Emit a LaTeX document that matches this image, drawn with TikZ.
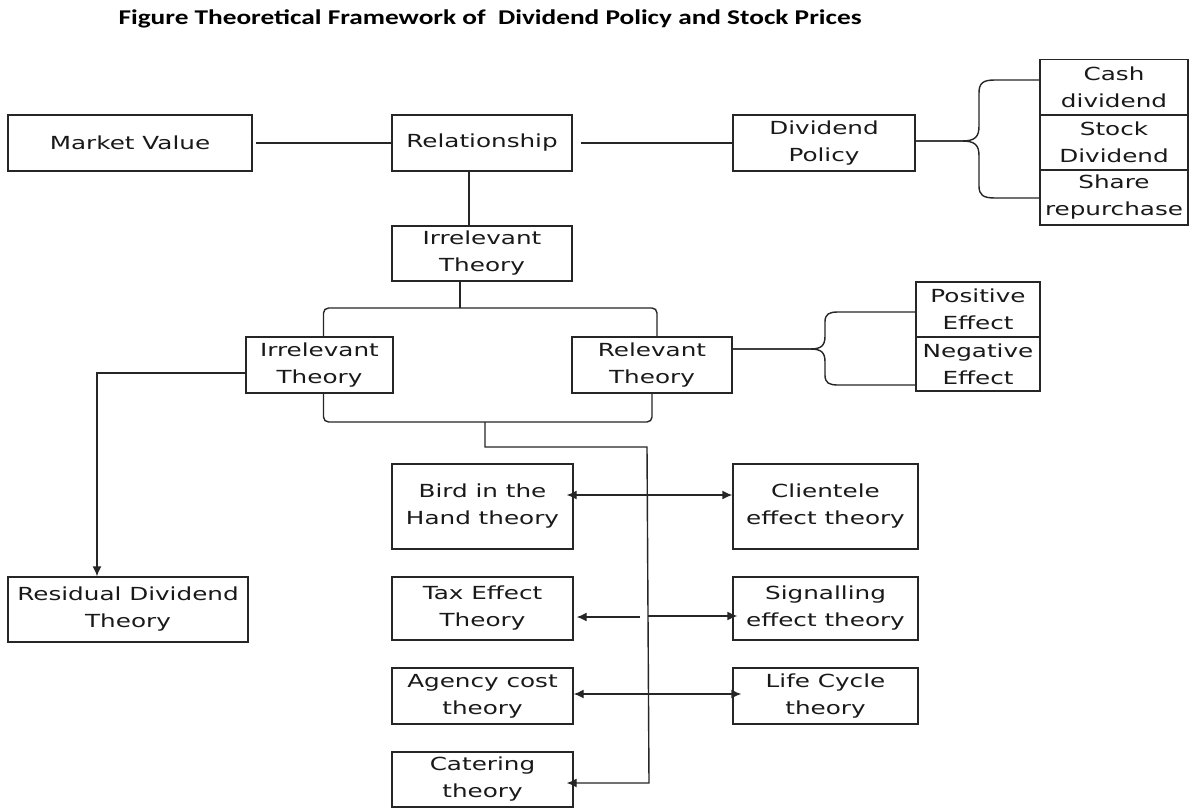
\documentclass[tikz,border=0pt]{standalone}
\usepackage{fontspec}
\usetikzlibrary{arrows.meta}
\newfontfamily\boxfont[FakeStretch=1.37]{DejaVu Sans}
\newfontfamily\titlefont[FakeStretch=1.3]{Carlito Bold}
\begin{document}
\begin{tikzpicture}[x=1pt,y=1pt,
  box/.style={draw=black!85, line width=1.4pt, inner sep=0pt, align=center,
    font=\boxfont\fontsize{18}{27}\selectfont, text=black!90},
  conn/.style={draw=black!85, line width=1.4pt},
  tip/.style={-{Latex[length=10pt,width=9pt]}},
  dtip/.style={{Latex[length=10pt,width=9pt]}-{Latex[length=10pt,width=9pt]}}]
\fill[white] (0,0) rectangle (1191,-808);
\useasboundingbox (0,0) rectangle (1191,-808);

\node[anchor=base west, font=\titlefont\fontsize{21}{24}\selectfont] (title) at (115,-25)
  {Figure Theoretical Framework of~ Dividend Policy and Stock Prices};

% top row
\node[box, minimum width=244pt, minimum height=56pt] (mv) at (130,-143) {Market Value};
\node[box, minimum width=180pt, minimum height=56pt] (rel) at (482,-143) {Relationship};
\node[box, minimum width=182pt, minimum height=56pt] (dp) at (824,-143) {Dividend\\Policy};
\node[box, minimum width=148pt, minimum height=55pt] (cash) at (1114,-87) {Cash\\dividend};
\node[box, minimum width=148pt, minimum height=55pt] (stock) at (1114,-142.5) {Stock\\Dividend};
\node[box, minimum width=148pt, minimum height=55pt] (share) at (1114,-197.5) {Share\\repurchase};

\node[box, minimum width=180pt, minimum height=55pt] (irr0) at (482,-253.5) {Irrelevant\\Theory};
\node[box, minimum width=147pt, minimum height=56pt] (irrL) at (319.5,-365) {Irrelevant\\Theory};
\node[box, minimum width=160pt, minimum height=56pt] (relv) at (652,-365) {Relevant\\Theory};
\node[box, minimum width=124pt, minimum height=55pt] (pos) at (978,-309.5) {Positive\\Effect};
\node[box, minimum width=124pt, minimum height=54pt] (neg) at (978,-364) {Negative\\Effect};

\node[box, minimum width=240pt, minimum height=65pt] (res) at (128,-609.5) {Residual Dividend\\Theory};

\node[box, minimum width=181pt, minimum height=85pt] (bird) at (482.5,-506.5) {Bird in the\\Hand theory};
\node[box, minimum width=185pt, minimum height=85pt] (cli) at (825.5,-506.5) {Clientele\\effect theory};
\node[box, minimum width=181pt, minimum height=63pt] (tax) at (482.5,-608.5) {Tax Effect\\Theory};
\node[box, minimum width=185pt, minimum height=63pt] (sig) at (825.5,-608.5) {Signalling\\effect theory};
\node[box, minimum width=181pt, minimum height=56pt] (agency) at (482.5,-696) {Agency cost\\theory};
\node[box, minimum width=185pt, minimum height=56pt] (life) at (825.5,-696) {Life Cycle\\theory};
\node[box, minimum width=181pt, minimum height=55pt] (cat) at (482.5,-779.5) {Catering\\theory};

% coordinates
\coordinate (topbar) at (460,-308);
\coordinate (botbar) at (485,-422);
\coordinate (trunkTop) at (647,-447);
\coordinate (trunkBot) at (649,-783);
\coordinate (taxStart) at (640,-617);
\coordinate (sigStart) at (648,-616);

% connectors top
\draw[conn] ([xshift=3pt]mv.east) -- (rel.west);
\draw[conn] ([xshift=8pt]rel.east) -- (dp.west);
\draw[conn] ([xshift=-13pt]rel.south) -- ([xshift=-13pt]irr0.north);

% dividend brace
\draw[conn] ([yshift=2pt]dp.east) -- (962,-141) .. controls (975,-141) and (979,-137) .. (979,-126)
  -- (979,-93) .. controls (979,-83) and (983,-80) .. (995,-80) -- ([yshift=7pt]cash.west);
\draw[conn] ([yshift=2pt]dp.east) -- (962,-141) .. controls (975,-141) and (979,-145) .. (979,-156)
  -- (979,-186) .. controls (979,-195) and (983,-198) .. (995,-198) -- ([yshift=-0.5pt]share.west);

% bracket around irrelevant / relevant
\draw[conn] ([xshift=-22pt]irr0.south) -- (topbar);
\draw[conn, rounded corners=5pt] ([xshift=4pt]irrL.north) |- (topbar) -| ([xshift=5pt]relv.north);
\draw[conn, rounded corners=5pt] ([xshift=4pt]irrL.south) |- (botbar) -| (relv.south);

% effects brace
\draw[conn] ([yshift=16pt]relv.east) -- (810,-349) .. controls (821,-349) and (825,-346) .. (825,-336)
  -- (825,-322) .. controls (825,-314) and (829,-312) .. (838,-312) -- ([yshift=-2.5pt]pos.west);
\draw[conn] ([yshift=16pt]relv.east) -- (810,-349) .. controls (821,-349) and (825,-352) .. (825,-362)
  -- (825,-375) .. controls (825,-383) and (829,-385) .. (838,-385) -- ([yshift=-21pt]neg.west);

% left branch
\draw[conn, tip] ([yshift=-8pt]irrL.west) -| ([xshift=-31pt]res.north);

% trunk
\draw[conn, tip] (botbar) |- (trunkTop) -- (trunkBot) -- ([xshift=-7pt]cat.east |- trunkBot);

% rows
\draw[conn, dtip] ([xshift=-7pt,yshift=11.5pt]bird.east) -- ([yshift=11.5pt]cli.west);
\draw[conn, tip] (taxStart) -- ([xshift=3pt]tax.east |- taxStart);
\draw[conn, tip] (sigStart) -- ([xshift=5pt]sig.west |- sigStart);
\draw[conn, dtip] ([yshift=2pt]agency.east) -- ([xshift=9pt,yshift=2pt]life.west);
\end{tikzpicture}
\end{document}
